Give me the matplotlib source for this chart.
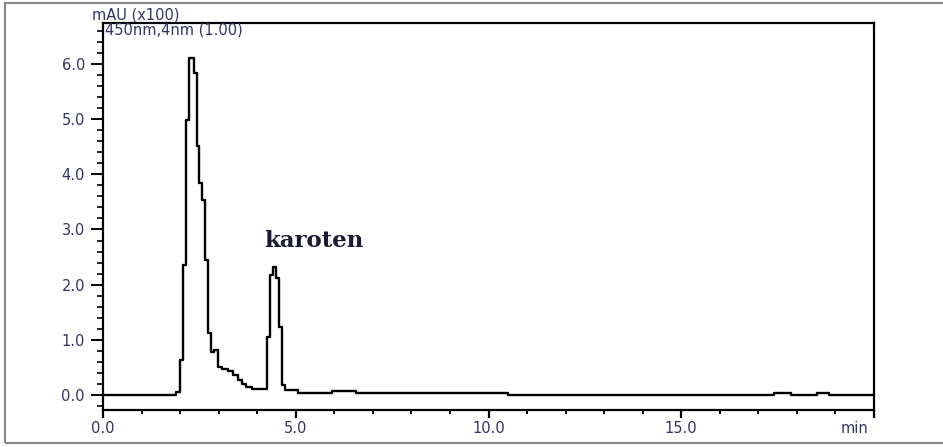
import matplotlib
matplotlib.use("Agg")
import matplotlib.pyplot as plt
from matplotlib.ticker import MultipleLocator, FixedLocator
from matplotlib.patches import Rectangle

# Chromatogram trace (step-wise), time in min, signal in mAU x100
time_min = [0.0, 1.894, 1.997, 2.075, 2.153, 2.231, 2.361, 2.438, 2.490, 2.568,
            2.646, 2.724, 2.802, 2.879, 2.983, 3.087, 3.243, 3.372, 3.502, 3.606,
            3.709, 3.865, 4.254, 4.332, 4.410, 4.488, 4.565, 4.643, 4.721, 5.06,
            5.94, 6.56, 10.51, 17.41, 17.85, 18.52, 18.83, 20.0]
signal = [0.0, 0.05, 0.63, 2.36, 4.98, 6.10, 5.84, 4.52, 3.85, 3.53,
          2.44, 1.12, 0.78, 0.81, 0.50, 0.47, 0.43, 0.37, 0.27, 0.20,
          0.14, 0.11, 1.05, 2.17, 2.32, 2.12, 1.23, 0.18, 0.09, 0.04,
          0.08, 0.04, 0.0, 0.03, 0.0, 0.03, 0.0, 0.0]

x_major = [0.0, 5.0, 10.0, 15.0, 20.0]
x_labels = ["0.0", "5.0", "10.0", "15.0", ""]
y_major = [0.0, 1.0, 2.0, 3.0, 4.0, 5.0, 6.0]
y_labels = ["0.0", "1.0", "2.0", "3.0", "4.0", "5.0", "6.0"]

peak_label = "karoten"
peak_label_pos = (5.47, 2.69)

txt_color = "#333366"

W, H = 943, 447
fig = plt.figure(figsize=(W / 100, H / 100), dpi=100)
ax = fig.add_axes([103 / W, 1 - 410 / H, (874 - 103) / W, (410 - 23) / H])

ax.plot(time_min, signal, drawstyle="steps-post", color="black", lw=1.7)

ax.set_xlim(0, 20)
ax.set_ylim(-0.272, 6.743)

ax.xaxis.set_major_locator(FixedLocator(x_major))
ax.set_xticklabels(x_labels)
ax.xaxis.set_minor_locator(MultipleLocator(1.0))
ax.yaxis.set_major_locator(FixedLocator(y_major))
ax.set_yticklabels(y_labels)
ax.yaxis.set_minor_locator(MultipleLocator(0.2))

for s in ax.spines.values():
    s.set_linewidth(1.6)
    s.set_color("black")

ax.tick_params(axis="x", which="major", length=6, width=1.6, direction="out",
               labelsize=10.5, labelcolor=txt_color, pad=2)
ax.tick_params(axis="x", which="minor", length=3, width=1.4, direction="out")
ax.tick_params(axis="y", which="major", length=9, width=1.4, direction="out",
               labelsize=10.5, labelcolor=txt_color, pad=4)
ax.tick_params(axis="y", which="minor", length=4, width=1.2, direction="out")

for lab in ax.get_xticklabels() + ax.get_yticklabels():
    lab.set_fontfamily("DejaVu Sans")

# Unit label at the end of the x axis, aligned with tick labels
ax.annotate("min", xy=(19.5, 0), xycoords=("data", "axes fraction"),
            xytext=(0, -8), textcoords="offset points", ha="center", va="top",
            fontsize=10.5, color=txt_color, family="DejaVu Sans")

# Header labels
fig.text(92 / W, 1 - 15 / H, "mAU (x100)", ha="left", va="center",
         fontsize=10.5, color=txt_color, family="DejaVu Sans")
fig.text(105 / W, 1 - 30 / H, "450nm,4nm (1.00)", ha="left", va="center",
         fontsize=10.5, color=txt_color, family="DejaVu Sans")

ax.text(peak_label_pos[0], peak_label_pos[1], peak_label, ha="center",
        va="baseline", fontsize=16.5, fontweight="bold", color="#1a1a33",
        family="DejaVu Serif")

# Outer gray frame (right edge falls outside the image)
frame = Rectangle((5 / W, 1 - 443 / H), 1.2, (443 - 3) / H, transform=fig.transFigure,
                  fill=False, edgecolor="#888888", lw=1.5)
fig.patches.append(frame)

fig.savefig("out.png", dpi=100)
